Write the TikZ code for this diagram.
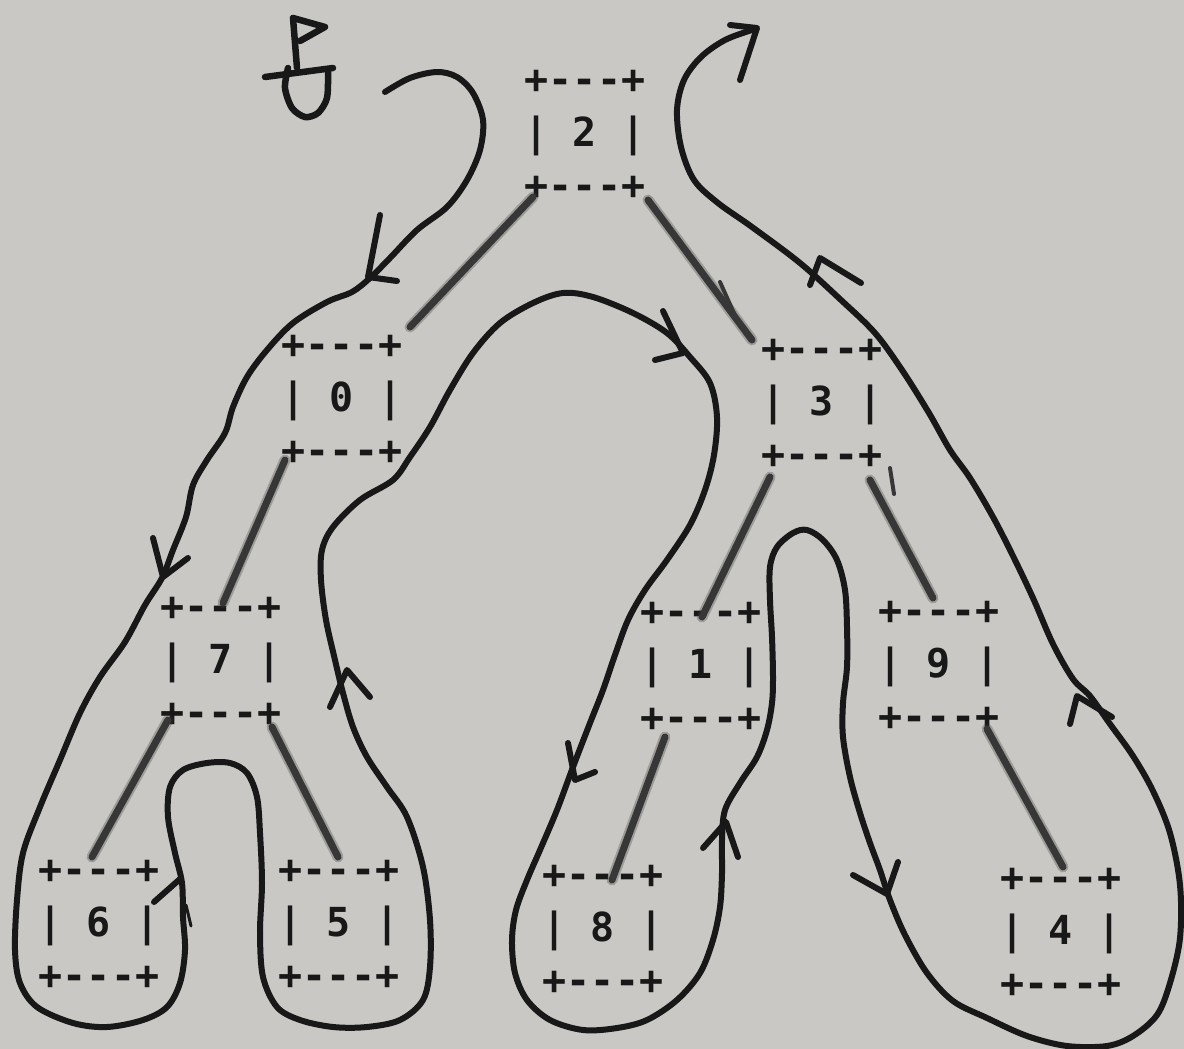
\documentclass[tikz,border=0pt]{standalone}
\usepackage{fontspec}
\newfontfamily\boxfont{DejaVu Sans Mono}
\newcommand\dsh{\hbox{-}}
\newcommand\treecell[1]{+\dsh\dsh\dsh+\\| #1 |\\+\dsh\dsh\dsh+}
\definecolor{paper}{RGB}{202,200,196}
\definecolor{ink}{RGB}{24,24,24}
\definecolor{lead}{RGB}{55,55,55}
\tikzset{
  treebox/.style={font=\boxfont\bfseries\fontsize{40}{53}\selectfont, align=center,
    inner sep=0pt, text=ink},
  pencil/.style={line width=7pt, draw=lead, line cap=round},
  pencilhalo/.style={line width=11pt, draw=lead, opacity=0.3, line cap=round},
  tour/.style={line width=6pt, draw=ink, line cap=round, line join=round},
  chevron/.style={line width=6pt, draw=ink, line cap=round, line join=round},
}
\begin{document}
\begin{tikzpicture}[x=1pt,y=-1pt]
\fill[paper] (0,0) rectangle (1184,1049);
\useasboundingbox (0,0) rectangle (1184,1049);

% tree cells
\node[treebox] (b2) at (585,135) {\treecell{2}};
\node[treebox] (b0) at (342,400) {\treecell{0}};
\node[treebox] (b3) at (822,404) {\treecell{3}};
\node[treebox] (b7) at (221,662) {\treecell{7}};
\node[treebox] (b1) at (701,667) {\treecell{1}};
\node[treebox] (b9) at (939,666) {\treecell{9}};
\node[treebox] (b6) at (99,925)  {\treecell{6}};
\node[treebox] (b5) at (339,925) {\treecell{5}};
\node[treebox] (b8) at (603,930) {\treecell{8}};
\node[treebox] (b4) at (1061,933) {\treecell{4}};

% pencil edges between cells
\foreach \a/\sa/\b/\sb in {
  b2/{(-52,62)}/b0/{(68,-73)},
  b2/{(63,65)}/b3/{(-70,-64)},
  b0/{(-57,60)}/b7/{(2,-59)},
  b3/{(-52,73)}/b1/{(1,-50)},
  b3/{(48,76)}/b9/{(-6,-68)},
  b7/{(-53,58)}/b6/{(-7,-68)},
  b7/{(51,65)}/b5/{(-1,-68)},
  b1/{(-36,70)}/b8/{(9,-50)},
  b9/{(48,63)}/b4/{(2,-66)}} {
  \draw[pencilhalo] ([shift={\sa}]\a.center) -- ([shift={\sb}]\b.center);
  \draw[pencil] ([shift={\sa}]\a.center) -- ([shift={\sb}]\b.center);
}
\draw[line width=4pt, draw=lead, line cap=round] (720,282) -- (737,320);
\draw[line width=4pt, draw=lead, line cap=round] (890,468) -- (894,494);

% start mark
\draw[tour, line width=6.5pt] (293,18) -- (297,68);
\draw[tour, line width=6.5pt] (293,18) -- (325,27) -- (300,41);
\draw[tour, line width=6.5pt] (265,77) -- (333,68);
\draw[tour, line width=6.5pt] plot[smooth] coordinates {(288,68) (285,88) (292,108) (305,117) (318,113) (327,98) (328,72)};

% the walk around the tree
\draw[tour] plot[smooth, tension=0.55] coordinates {
(385,92) (410,78) (437,72) (457,77) (473,93) (483,120) (480,150) (467,180) (447,207)
(417,230) (390,258) (370,278) (352,292) (327,302) (293,323) (267,350) (247,377)
(233,407) (225,433) (207,460) (193,485) (186,517) (173,550) (162,578) (145,605)
(125,642) (100,677) (80,713) (60,760) (40,807) (23,853) (17,900) (15,950) (20,983)
(37,1007) (73,1023) (107,1027) (143,1020) (167,1007) (180,983) (185,950) (183,917)
(182,883) (175,853) (168,817) (170,787) (183,770) (207,763) (230,763) (247,773)
(257,797) (260,833) (262,883) (260,933) (263,977) (277,1007) (300,1020) (333,1027)
(367,1027) (400,1020) (423,1000) (430,967) (430,920) (423,867) (407,817) (387,787)
(367,757) (353,727) (343,693) (335,660) (326,620) (321,580) (322,550) (333,527)
(360,500) (393,480) (410,457) (430,427) (450,390) (473,353) (500,323) (533,303)
(563,293) (593,297) (633,313) (667,333) (690,357) (710,383) (717,417) (714,455)
(705,490) (690,525) (667,560) (645,590) (628,620) (615,655) (603,690) (590,723)
(573,767) (557,810) (540,850) (527,880) (516,910) (512,940) (515,973) (527,1000)
(550,1020) (583,1030) (617,1028) (647,1020) (677,1000) (700,973) (713,940) (720,907)
(722,873) (722,840) (725,810) (740,783) (757,757) (767,730) (772,703) (773,677)
(772,637) (770,600) (770,567) (777,547) (793,533) (807,530) (823,540) (837,560)
(845,590) (847,627) (847,667) (843,703) (843,737) (850,777) (860,813) (870,843)
(880,870) (890,900) (905,935) (927,973) (953,1001) (987,1018) (1027,1036) (1067,1046)
(1107,1046) (1133,1036) (1157,1015) (1170,983) (1180,938) (1180,885) (1170,833)
(1153,791) (1133,756) (1110,724) (1090,696) (1073,679) (1053,644) (1033,598)
(1013,556) (993,517) (970,478) (950,450) (929,413) (902,370) (875,333) (841,300)
(800,263) (752,227) (718,203) (694,180) (681,147) (677,110) (684,80) (701,57)
(725,40) (752,30)};

% direction marks along the walk
\draw[chevron] (380,215) -- (368,277) -- (397,281);
\draw[chevron] (153,538) -- (163,577) -- (188,558);
\draw[chevron] (154,902) -- (180,879);
\draw[line width=3pt, draw=ink, line cap=round] (186,905) -- (191,926);
\draw[chevron] (330,707) -- (347,670) -- (370,697);
\draw[chevron] (663,311) -- (683,353) -- (655,360);
\draw[chevron] (568,743) -- (575,780) -- (595,772);
\draw[chevron] (703,848) -- (726,822) -- (738,857);
\draw[chevron] (853,875) -- (887,894) -- (898,862);
\draw[chevron] (1070,724) -- (1077,696) -- (1112,717);
\draw[chevron] (810,285) -- (820,258) -- (861,283);
\draw[chevron] (730,25) -- (757,28) -- (740,80);
\end{tikzpicture}
\end{document}
